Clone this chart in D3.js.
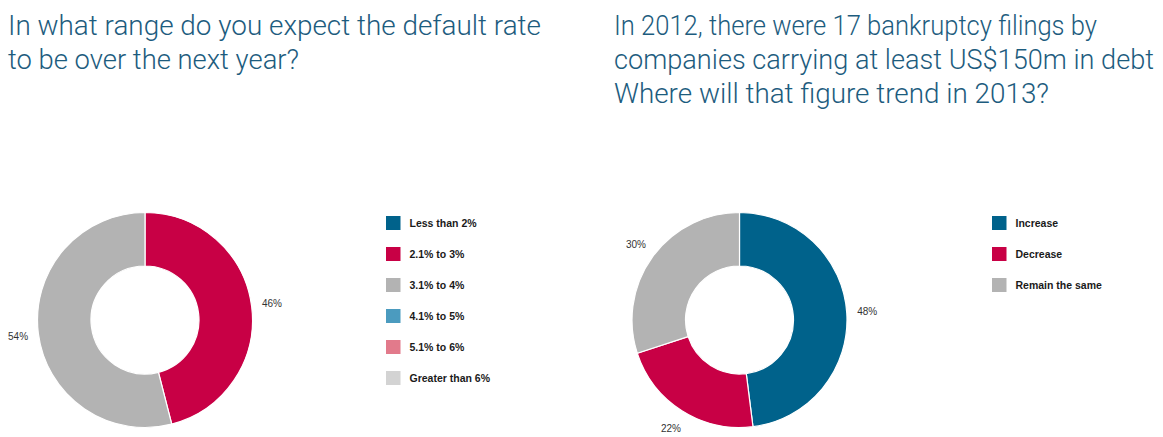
<!DOCTYPE html>
<html><head><meta charset="utf-8">
<script src="https://cdn.jsdelivr.net/npm/d3@7"></script>
<style>
html,body{margin:0;padding:0;background:#fff;}
svg{display:block;}
</style></head>
<body>
<svg id="chart" width="1163" height="437"></svg>
<script>
// ---- Data ----
const titleLeft = ["In what range do you expect the default rate", "to be over the next year?"];
const titleRight = ["In 2012, there were 17 bankruptcy filings by", "companies carrying at least US$150m in debt", "Where will that figure trend in 2013?"];

const defaultCategories = ["Less than 2%", "2.1% to 3%", "3.1% to 4%", "4.1% to 5%", "5.1% to 6%", "Greater than 6%"];
const defaultValues = [0, 46, 54, 0, 0, 0];
const defaultColors = ["#00628b", "#c80045", "#b3b3b3", "#4b9bbf", "#e27a8b", "#d3d3d3"];

const trendCategories = ["Increase", "Decrease", "Remain the same"];
const trendValues = [48, 22, 30];
const trendColors = ["#00628b", "#c80045", "#b3b3b3"];

// ---- Drawing ----
const svg = d3.select("#chart");
const titleColor = "#1d5c7e";

function drawTitle(lines, x, widths) {
  const g = svg.append("g");
  g.selectAll("text").data(lines).join("text")
    .attr("x", x)
    .attr("y", (d, i) => 35 + i * 33.8)
    .attr("fill", titleColor)
    .attr("textLength", (d, i) => widths[i])
    .attr("lengthAdjust", "spacingAndGlyphs")
    .style("font-family", "Roboto, 'Liberation Sans', sans-serif")
    .style("font-weight", 300)
    .style("font-size", "28px")
    .text(d => d);
}
drawTitle(titleLeft, 8, [533, 291]);
drawTitle(titleRight, 614, [483, 540, 435]);

function drawDonut(cx, cy, cats, vals, colors) {
  const pie = d3.pie().sort(null).value(d => d.v);
  const data = cats.map((c, i) => ({c, v: vals[i], col: colors[i]}));
  const arcs = pie(data).filter(a => a.data.v > 0);
  const arc = d3.arc().innerRadius(54).outerRadius(107.5);
  const labelArc = d3.arc().innerRadius(128).outerRadius(128);
  const g = svg.append("g").attr("transform", `translate(${cx},${cy})`);
  g.selectAll("path").data(arcs).join("path")
    .attr("d", arc)
    .attr("fill", d => d.data.col)
    .attr("stroke", "#fff")
    .attr("stroke-width", 1.2);
  g.selectAll("text").data(arcs).join("text")
    .attr("transform", d => `translate(${labelArc.centroid(d)})`)
    .attr("text-anchor", "middle")
    .attr("dy", "0.35em")
    .attr("fill", "#333")
    .style("font-family", "'Liberation Sans', Arial, sans-serif")
    .style("font-size", "10px")
    .text(d => d.data.v + "%");
}
drawDonut(145, 320, defaultCategories, defaultValues, defaultColors);
drawDonut(739.5, 320, trendCategories, trendValues, trendColors);

function drawLegend(x, y0, cats, colors) {
  const g = svg.append("g");
  const rows = g.selectAll("g").data(cats).join("g")
    .attr("transform", (d, i) => `translate(${x},${y0 + i * 31})`);
  rows.append("rect")
    .attr("x", 0).attr("y", -7).attr("width", 14.5).attr("height", 14)
    .attr("fill", (d, i) => colors[i]);
  rows.append("text")
    .attr("x", 23.5).attr("y", 0).attr("dy", "0.35em")
    .attr("fill", "#1a1a1a")
    .style("font-family", "'Liberation Sans', Arial, sans-serif")
    .style("font-size", "10.5px")
    .style("font-weight", "bold")
    .text(d => d);
}
drawLegend(386, 223, defaultCategories, defaultColors);
drawLegend(992, 223, trendCategories, trendColors);
</script>
</body></html>
